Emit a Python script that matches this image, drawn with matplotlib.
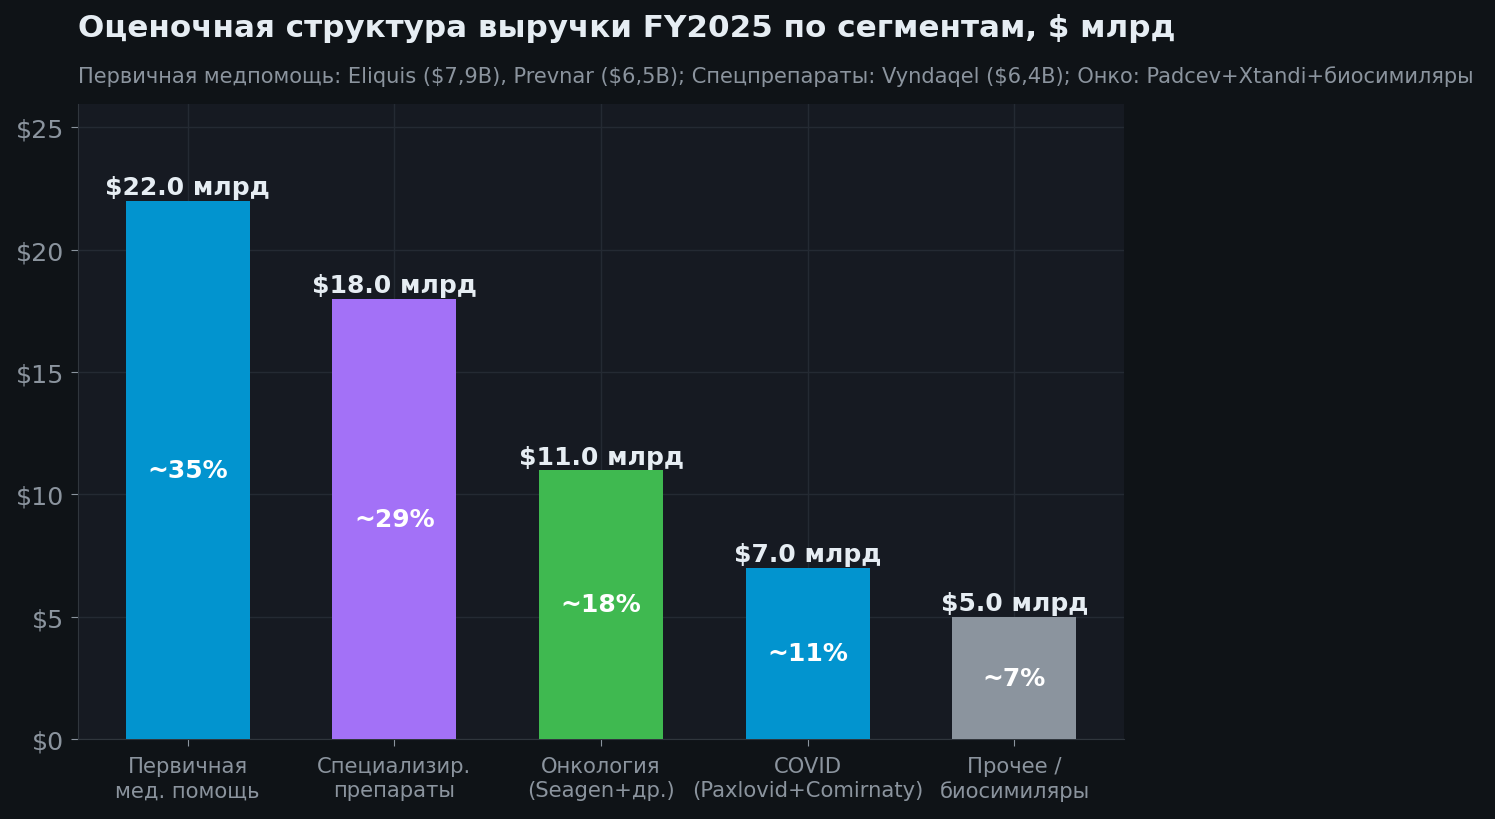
import matplotlib.pyplot as plt

plt.rcParams["font.family"] = ["DejaVu Sans"]

# Segment data (FY2025, $ bn)
categories = [
    "Первичная\nмед. помощь",
    "Специализир.\nпрепараты",
    "Онкология\n(Seagen+др.)",
    "COVID\n(Paxlovid+Comirnaty)",
    "Прочее /\nбиосимиляры",
]
revenue = [22.0, 18.0, 11.0, 7.0, 5.0]
shares = ["~35%", "~29%", "~18%", "~11%", "~7%"]
y_ticks = [0, 5, 10, 15, 20, 25]
y_tick_labels = ["$0", "$5", "$10", "$15", "$20", "$25"]

bar_colors = ["#0294cf", "#a371f7", "#3fb950", "#0294cf", "#8b949e"]

title = "Оценочная структура выручки FY2025 по сегментам, $ млрд"
subtitle = ("Первичная медпомощь: Eliquis ($7,9B), Prevnar ($6,5B); "
            "Спецпрепараты: Vyndaqel ($6,4B); Онко: Padcev+Xtandi+биосимиляры")

fig_bg = "#0f1317"
ax_bg = "#161a22"
grid_c = "#242a33"
muted = "#8b949e"

fig = plt.figure(figsize=(14.95, 8.2), dpi=100, facecolor=fig_bg)
W, H = 1495, 820
ax = fig.add_axes([78 / W, 1 - 740 / H, (1124 - 78) / W, (740 - 105) / H])
ax.set_facecolor(ax_bg)

x = range(len(categories))
bars = ax.bar(x, revenue, width=0.6, color=bar_colors, zorder=3)

for rect, val, share in zip(bars, revenue, shares):
    cx = rect.get_x() + rect.get_width() / 2
    ax.annotate(f"${val:.1f} млрд", (cx, val), xytext=(0, 1),
                textcoords="offset points", ha="center", va="bottom",
                fontsize=18, fontweight="bold", color="#e6edf3", zorder=4)
    ax.text(cx, val / 2, share, ha="center", va="center",
            fontsize=18, fontweight="bold", color="white", zorder=4)

ax.set_ylim(0, max(revenue) * 1.18)
ax.set_yticks(y_ticks)
ax.set_yticklabels(y_tick_labels)
ax.set_xticks(list(x))
ax.set_xticklabels(categories, fontsize=15.2, color=muted, linespacing=1.25)
ax.tick_params(axis="y", labelsize=18.3, colors=muted, length=5, pad=5)
ax.tick_params(axis="x", colors=muted, length=5, pad=7.5)

ax.grid(True, color=grid_c, linewidth=1, zorder=0)
ax.set_axisbelow(True)
for side in ["top", "right"]:
    ax.spines[side].set_visible(False)
for side in ["left", "bottom"]:
    ax.spines[side].set_color("#30363d")

fig.text(78 / W, 1 - 28.5 / H, title, fontsize=22.3, fontweight="bold",
         color="#e6edf3", ha="left", va="center")
fig.text(78 / W, 1 - 77 / H, subtitle, fontsize=15.1, color=muted,
         ha="left", va="center")

fig.savefig("out.png", dpi=100, facecolor=fig_bg)
